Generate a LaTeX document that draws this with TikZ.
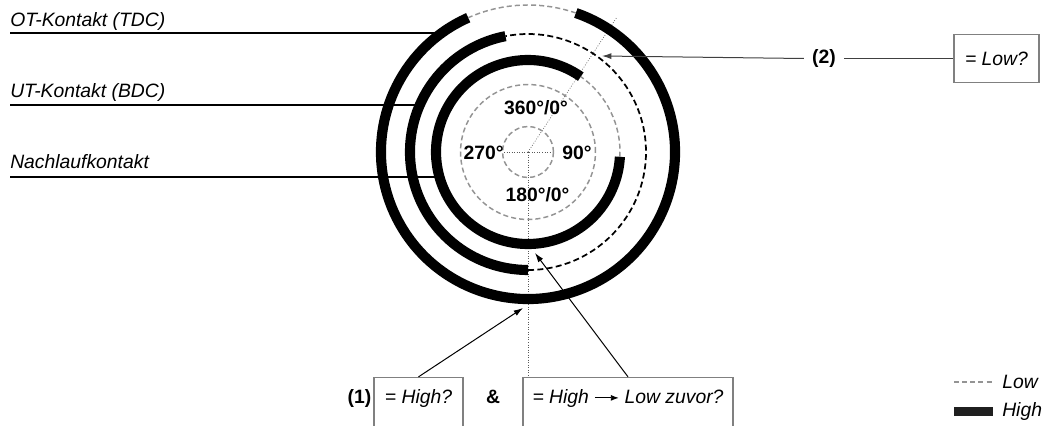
\documentclass[tikz,border=0pt]{standalone}
\usepackage{fontspec}
\setmainfont{Liberation Sans}
\usetikzlibrary{arrows.meta}
\tikzset{
  high/.style={black, line width=7.6pt},
  lowline/.style={black!42, line width=1.1pt, dash pattern=on 3.8pt off 2.3pt},
  lowblk/.style={black, line width=1.3pt, dash pattern=on 4.5pt off 2.5pt},
  guide/.style={black!65, line width=0.5pt, dash pattern=on 0.6pt off 1.3pt},
  lead/.style={black, line width=0.8pt},
  ptr/.style={black, line width=0.75pt, -{Latex[length=7pt,width=4.5pt]}},
  txt/.style={inner sep=0pt, font=\fontsize{14.5}{17}\selectfont},
  lbl/.style={txt, font=\fontsize{14.5}{17}\selectfont\itshape, anchor=base west},
  deg/.style={txt, font=\fontsize{14.5}{17}\selectfont\bfseries},
  qbox/.style={draw=black!50, line width=1pt, inner xsep=0pt, inner ysep=0pt,
    font=\fontsize{14.5}{17}\selectfont\itshape},
}
\begin{document}
\begin{tikzpicture}[x=0.75pt, y=0.75pt]
\useasboundingbox (0,0) rectangle (1049,-425);
\coordinate (C) at (528,-152);

% guide lines
\coordinate (diagEnd) at (617,-17);
\coordinate (vEnd) at (528,-377);
\coordinate (hL) at (504,-152);
\coordinate (hR) at (552,-152);
\draw[guide] (C) -- (diagEnd);
\draw[guide] (C) -- (vEnd);
\draw[guide] (hL) -- (hR);

% inner reference circles
\draw[lowline] (C) circle[radius=19.1pt];
\draw[lowline] (C) circle[radius=50.6pt];

% Nachlaufkontakt ring
\draw[high] (C) ++(55:69pt) arc[start angle=55, end angle=357, radius=69pt];
\draw[lowline] (C) ++(-3:69pt) arc[start angle=-3, end angle=55, radius=69pt];

% UT ring
\draw[high] (C) ++(101:88.5pt) arc[start angle=101, end angle=270, radius=88.5pt];
\draw[lowblk] (C) ++(270:88.5pt) arc[start angle=270, end angle=461, radius=88.5pt];

% OT ring
\draw[high] (C) ++(114:110.25pt) arc[start angle=114, end angle=431, radius=110.25pt];
\draw[lowline] (C) ++(71:110.25pt) arc[start angle=71, end angle=114, radius=110.25pt];

% degree labels
\node[deg] (d0) at (536,-107.5) {360°/0°};
\node[deg] (d270) at (483.5,-153) {270°};
\node[deg] (d90) at (577,-153) {90°};
\node[deg] (d180) at (537.5,-195) {180°/0°};

% left labels
\node[lbl] (ot) at (10,-26) {OT-Kontakt (TDC)};
\node[lbl] (ut) at (10,-97) {UT-Kontakt (BDC)};
\node[lbl] (nl) at (10,-168) {Nachlaufkontakt};
\coordinate (otA) at (10,-33);  \coordinate (otB) at (437,-33);
\coordinate (utA) at (10,-105); \coordinate (utB) at (420,-105);
\coordinate (nlA) at (10,-177); \coordinate (nlB) at (436,-177);
\draw[lead] (otA) -- (otB);
\draw[lead] (utA) -- (utB);
\draw[lead] (nlA) -- (nlB);

% (2) and Low box
\node[qbox, minimum width=63.75pt, minimum height=36pt] (low) at (996.5,-58.5) {= Low?};
\node[txt, font=\fontsize{14.5}{17}\selectfont\bfseries, anchor=base, inner xsep=6pt] (two) at (824,-63) {(2)};
\coordinate (t2) at (602,-56);
\draw[black!75, line width=0.75pt] (low.west) -- (two.east |- low.west);
\draw[ptr, black!75] (two.west |- low.west) -- (t2);

% bottom boxes
\node[qbox, anchor=base, minimum width=66.75pt, text height=19.5pt, text depth=24pt] (b1) at (418.5,-403.5) {= High?};
\node[qbox, anchor=base, minimum width=157.5pt, text height=19.5pt, text depth=24pt] (b2) at (628,-403.5)
  {= High \tikz[baseline=-0.55ex]\draw[line width=0.7pt,-{Latex[length=6pt,width=4.5pt]}] (0pt,0pt) -- (18pt,0pt); Low zuvor?};
\node[deg, anchor=base east] (one) at (371.5,-403.5) {(1)};
\node[deg, anchor=base] (amp) at (493,-403.5) {\&};
\coordinate (t1) at (523,-308);
\coordinate (tn) at (535,-253);
\draw[ptr] (b1.north) -- (t1);
\draw[ptr] (b2.north) -- (tn);

% legend
\coordinate (lgA) at (954,-382); \coordinate (lgB) at (993,-382);
\draw[lowline] (lgA) -- (lgB);
\node[lbl] (lgLow) at (1002,-388) {Low};
\fill[black!88] (954,-407) rectangle (993,-416);
\node[lbl] (lgHigh) at (1002,-416) {High};
\end{tikzpicture}
\end{document}
